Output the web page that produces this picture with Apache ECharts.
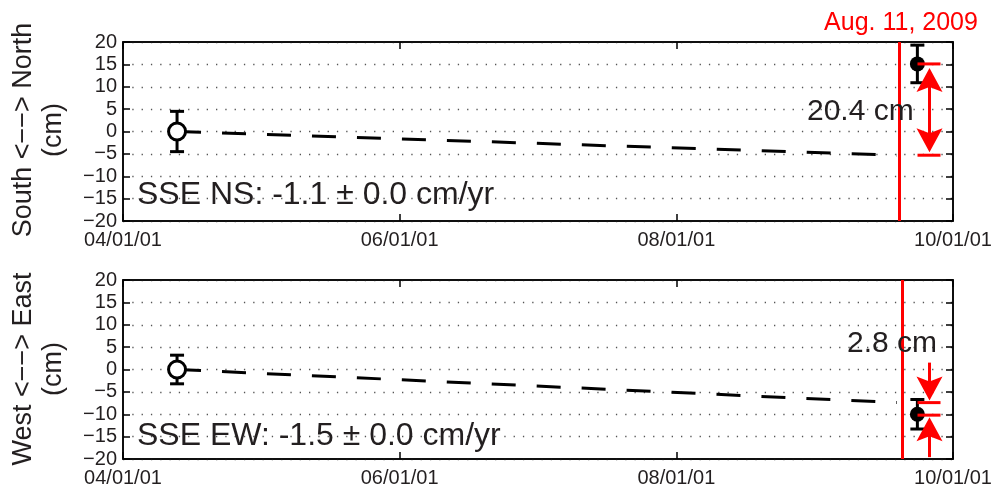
<!DOCTYPE html>
<html>
<head>
<meta charset="utf-8">
<script src="https://cdn.jsdelivr.net/npm/echarts@6/dist/echarts.min.js"></script>
<style>
  html, body { margin: 0; padding: 0; background: #fff; }
  #chart { width: 998px; height: 491px; }
</style>
</head>
<body>
<div id="chart"></div>
<script>
// tick labels
const xTickLabels = ['04/01/01', '06/01/01', '08/01/01', '10/01/01'];
const yTickLabels = ['−20', '−15', '−10', '−5', '0', '5', '10', '15', '20'];

// observations (first campaign open circle, second filled)
const obsDates = ['2004-05-23', '2009-09-29'];
const nsObs = [0, 15.1];
const nsErr = [4.5, 4.2];
const ewObs = [0, -10.0];
const ewErr = [3.2, 3.3];

// secular trend (dashed)
const trendDates = ['2004-05-23', '2009-08-06'];
const nsTrend = [0, -5.3];
const ewTrend = [0, -7.4];

// event + offset annotation
const eventDates = ['2009-08-11', '2009-08-19'];
const offsetDate = '2009-10-31';
const nsOffset = [15.1, -5.3];   // 20.4 cm
const ewOffset = [-7.4, -10.2];  // 2.8 cm

const FONT = '"Liberation Sans", Arial, Helvetica, sans-serif';
const INK = '#231f20';

function toYear(s) {
  const d = Date.parse(s + 'T00:00:00Z');
  const y = new Date(d).getUTCFullYear();
  const a = Date.UTC(y, 0, 1), b = Date.UTC(y + 1, 0, 1);
  return y + (d - a) / (b - a);
}

function renderErr(params, api) {
  const x = api.value(0), y = api.value(1), e = api.value(2);
  const top = api.coord([x, y + e]);
  const bot = api.coord([x, y - e]);
  const w = 7;
  const style = { stroke: '#000', lineWidth: 3 };
  return {
    type: 'group',
    children: [
      { type: 'line', shape: { x1: top[0], y1: top[1], x2: bot[0], y2: bot[1] }, style },
      { type: 'line', shape: { x1: top[0] - w, y1: top[1], x2: top[0] + w, y2: top[1] }, style },
      { type: 'line', shape: { x1: bot[0] - w, y1: bot[1], x2: bot[0] + w, y2: bot[1] }, style }
    ]
  };
}

// arrow head, dir -1 = pointing up, +1 = pointing down
function head(x, tip, dir) {
  const L = 24, W = 13, n = 5;
  return {
    type: 'polygon',
    shape: { points: [[x, tip], [x - W, tip - dir * L], [x, tip - dir * (L - n)], [x + W, tip - dir * L]] },
    style: { fill: 'red' }
  };
}

function offsetRenderer(mode) {
  return function (params, api) {
    const p1 = api.coord([api.value(0), api.value(1)]);
    const p2 = api.coord([api.value(0), api.value(2)]);
    const x = p1[0], y1 = p1[1], y2 = p2[1];
    const red = { stroke: 'red', lineWidth: 3 };
    const kids = [
      { type: 'line', shape: { x1: x - 12, y1: y1, x2: x + 11, y2: y1 }, style: red },
      { type: 'line', shape: { x1: x - 12, y1: y2, x2: x + 11, y2: y2 }, style: red }
    ];
    if (mode === 'out') {
      kids.push({ type: 'line', shape: { x1: x, y1: y1 + 14, x2: x, y2: y2 - 12 }, style: red });
      kids.push(head(x, y1 + 4, -1));
      kids.push(head(x, y2 - 3, 1));
    } else {
      kids.push({ type: 'line', shape: { x1: x, y1: y1 - 40, x2: x, y2: y1 - 10 }, style: red });
      kids.push({ type: 'line', shape: { x1: x, y1: y2 + 42, x2: x, y2: y2 + 10 }, style: red });
      kids.push(head(x, y1 - 2, 1));
      kids.push(head(x, y2 + 2, -1));
    }
    return { type: 'group', children: kids };
  };
}

const gridTops = [42, 280];

function makeAxes() {
  const xAxis = [], yAxis = [];
  gridTops.forEach(function (t, i) {
    const xBase = {
      type: 'value', gridIndex: i, min: 2004, max: 2010, interval: 2,
      axisLine: { show: true, onZero: false, lineStyle: { color: '#000', width: 1.5 } },
      axisTick: { inside: true, length: 7, lineStyle: { color: '#000', width: 1.5 } },
      splitLine: { show: false }
    };
    xAxis.push(Object.assign({}, xBase, {
      position: 'bottom',
      axisLabel: {
        margin: 9, fontSize: 20, color: INK, fontFamily: FONT,
        formatter: function (v) { return xTickLabels[Math.round((v - 2004) / 2)]; }
      }
    }));
    xAxis.push(Object.assign({}, xBase, { position: 'top', axisLabel: { show: false } }));
    const yBase = {
      type: 'value', gridIndex: i, min: -20, max: 20, interval: 5,
      axisLine: { show: true, onZero: false, lineStyle: { color: '#000', width: 1.5 } },
      axisTick: { show: true, inside: true, length: 7, lineStyle: { color: '#000', width: 1.5 } }
    };
    yAxis.push(Object.assign({}, yBase, {
      position: 'left',
      axisLabel: {
        margin: 6, fontSize: 20, color: INK, fontFamily: FONT,
        formatter: function (v) { return yTickLabels[Math.round((v + 20) / 5)]; }
      },
      splitLine: { show: true, lineStyle: { color: '#555', width: 1.3, type: [1.3, 8] } }
    }));
    yAxis.push(Object.assign({}, yBase, { position: 'right', axisLabel: { show: false }, splitLine: { show: false } }));
  });
  return { xAxis, yAxis };
}

function panelSeries(i, obs, err, trend, offset, mode) {
  const xi = 2 * i, yi = 2 * i;
  return [
    {
      type: 'line', xAxisIndex: xi, yAxisIndex: yi, showSymbol: false, silent: true,
      data: trendDates.map(function (d, k) { return [toYear(d), trend[k]]; }),
      lineStyle: { color: '#000', width: 3, type: [24, 21] },
      markLine: {
        silent: true, symbol: ['none', 'none'], label: { show: false },
        lineStyle: { color: 'red', width: 3, type: 'solid' },
        data: [{ xAxis: toYear(eventDates[i]) }]
      },
      z: 2
    },
    {
      type: 'custom', xAxisIndex: xi, yAxisIndex: yi, renderItem: renderErr, silent: true,
      data: obsDates.map(function (d, k) { return [toYear(d), obs[k], err[k]]; }),
      z: 3
    },
    {
      type: 'scatter', xAxisIndex: xi, yAxisIndex: yi, symbolSize: 17, silent: true,
      itemStyle: { color: '#fff', borderColor: '#000', borderWidth: 3, opacity: 1 },
      data: [[toYear(obsDates[0]), obs[0]]], z: 4
    },
    {
      type: 'scatter', xAxisIndex: xi, yAxisIndex: yi, symbolSize: 15, silent: true,
      itemStyle: { color: '#000', opacity: 1 },
      data: [[toYear(obsDates[1]), obs[1]]], z: 4
    },
    {
      type: 'custom', xAxisIndex: xi, yAxisIndex: yi, renderItem: offsetRenderer(mode), silent: true,
      data: [[toYear(offsetDate), offset[0], offset[1]]], z: 5
    }
  ];
}

function txt(text, x, y, size, color, rot) {
  return {
    type: 'text', x: x, y: y, rotation: rot || 0, silent: true, z: 10,
    style: { text: text, fill: color || INK, fontSize: size, fontFamily: FONT, align: 'left', verticalAlign: 'middle' }
  };
}
function ctxt(text, x, y, size, color, rot) {
  const t = txt(text, x, y, size, color, rot);
  t.style.align = 'center';
  return t;
}

const axes = makeAxes();
const chart = echarts.init(document.getElementById('chart'), null, { renderer: 'canvas' });
chart.setOption({
  animation: false,
  backgroundColor: '#fff',
  grid: gridTops.map(function (t) {
    return { left: 123, right: 45, top: t, height: 179, containLabel: false,
      show: true, borderColor: '#000', borderWidth: 1.5, backgroundColor: 'transparent' };
  }),
  xAxis: axes.xAxis,
  yAxis: axes.yAxis,
  series: panelSeries(0, nsObs, nsErr, nsTrend, nsOffset, 'out')
    .concat(panelSeries(1, ewObs, ewErr, ewTrend, ewOffset, 'in')),
  graphic: [
    ctxt('Aug. 11, 2009', 901, 23, 25, 'red'),
    txt('SSE NS: -1.1 ± 0.0 cm/yr', 137, 195, 32),
    txt('SSE EW: -1.5 ± 0.0 cm/yr', 137, 436, 32),
    txt('20.4 cm', 807, 112, 30),
    txt('2.8 cm', 847, 344, 30),
    ctxt('South <−−> North', 24, 130, 27, INK, Math.PI / 2),
    ctxt('(cm)', 54, 130, 27, INK, Math.PI / 2),
    ctxt('West <−−> East', 24, 369, 27, INK, Math.PI / 2),
    ctxt('(cm)', 54, 369, 27, INK, Math.PI / 2)
  ]
});
</script>
</body>
</html>
